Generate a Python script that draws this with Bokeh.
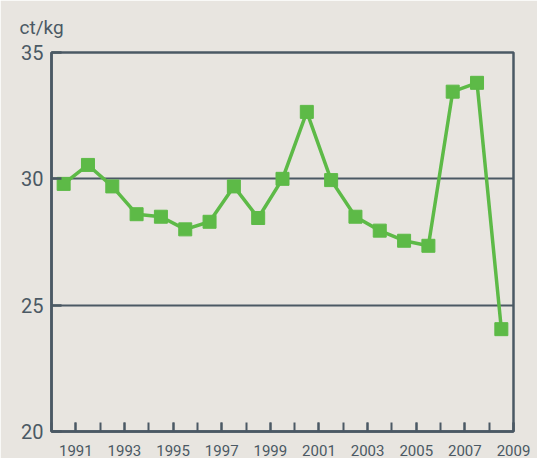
from bokeh.plotting import figure
from bokeh.models import FixedTicker, ColumnDataSource
from bokeh.transform import dodge
from bokeh.embed import file_html
from bokeh.resources import INLINE

years = list(range(1990, 2009))
prices = [29.8, 30.55, 29.7, 28.6, 28.5, 28.0, 28.3, 29.7, 28.45, 30.0,
          32.65, 29.95, 28.5, 27.95, 27.55, 27.35, 33.45, 33.8, 24.05]
x_label_years = list(range(1991, 2010, 2))
x_minor_years = list(range(1990, 2010))
y_ticks = [20, 25, 30, 35]
unit_label = "ct/kg"

BG = "#e8e5e0"
AX = "#4b5964"
TXT = "#4b5964"
GREEN = "#5dba47"
FONT = "Roboto"

src = ColumnDataSource(dict(year=years, price=prices))

p = figure(width=537, height=458, x_range=(1990, 2009), y_range=(20, 35),
           output_backend="svg", toolbar_location=None, tools="",
           min_border_left=51, min_border_right=24, min_border_top=52, min_border_bottom=27)
p.background_fill_color = BG
p.border_fill_color = BG
p.outline_line_color = AX
p.outline_line_width = 2.5

p.title.text = unit_label
p.title.text_font = FONT
p.title.text_font_size = "19px"
p.title.text_font_style = "normal"
p.title.text_color = TXT
p.title.align = "left"
p.title.offset = -32
p.title.standoff = 27

xa = p.xaxis[0]
xa.ticker = FixedTicker(ticks=x_label_years, minor_ticks=x_minor_years)
xa.axis_line_color = AX
xa.axis_line_width = 2.5
xa.major_tick_line_color = AX
xa.minor_tick_line_color = AX
xa.major_tick_line_width = 2
xa.minor_tick_line_width = 2
xa.major_tick_in = 9
xa.major_tick_out = 0
xa.minor_tick_in = 9
xa.minor_tick_out = 0
xa.major_label_standoff = 13
xa.major_label_text_font = FONT
xa.major_label_text_font_size = "15px"
xa.major_label_text_color = TXT

ya = p.yaxis[0]
ya.ticker = FixedTicker(ticks=y_ticks)
ya.axis_line_color = AX
ya.axis_line_width = 2.5
ya.major_tick_line_color = AX
ya.major_tick_line_width = 2.5
ya.major_tick_in = 10
ya.major_tick_out = 0
ya.minor_tick_line_color = None
ya.major_label_standoff = 8
ya.major_label_text_font = FONT
ya.major_label_text_font_size = "20px"
ya.major_label_text_color = TXT

p.xgrid.grid_line_color = None
p.ygrid.ticker = FixedTicker(ticks=y_ticks)
p.ygrid.grid_line_color = AX
p.ygrid.grid_line_width = 2

xd = dodge("year", 0.5)
p.line(x=xd, y="price", source=src, line_color=GREEN, line_width=3.5)
p.scatter(x=xd, y="price", source=src, marker="square", size=13,
          fill_color=GREEN, line_color=GREEN)

open("out.html", "w").write(file_html(p, INLINE))
